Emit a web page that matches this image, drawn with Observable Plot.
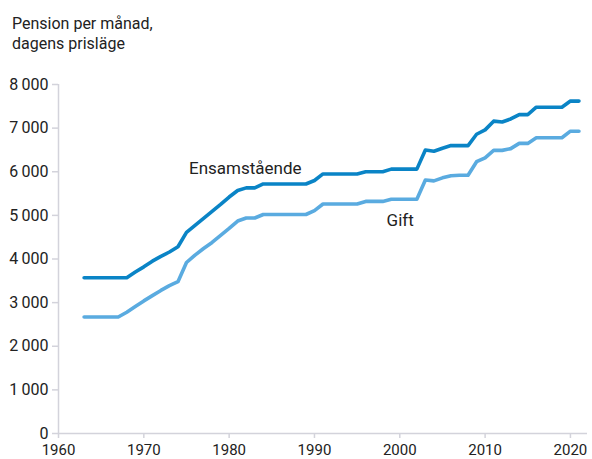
<!DOCTYPE html>
<html>
<head>
<meta charset="utf-8">
<script src="https://cdn.jsdelivr.net/npm/d3@7"></script>
<script src="https://cdn.jsdelivr.net/npm/@observablehq/plot@0.6"></script>
<style>
  html, body { margin: 0; padding: 0; background: #fff; }
  body { width: 592px; height: 459px; overflow: hidden; font-family: Roboto, "DejaVu Sans", sans-serif; }
  #title { padding: 14px 0 0 12px; height: 46px; font-size: 16px; line-height: 20px; color: #222; }
  svg { overflow: visible; display: block; }
</style>
</head>
<body>
<div id="title">Pension per månad,<br>dagens prisläge</div>
<div id="chart"></div>
<script>
const years = [1963,1964,1965,1966,1967,1968,1969,1970,1971,1972,1973,1974,1975,1976,1977,1978,1979,1980,
  1981,1982,1983,1984,1985,1986,1987,1988,1989,1990,1991,1992,1993,1994,1995,1996,1997,1998,1999,2000,
  2001,2002,2003,2004,2005,2006,2007,2008,2009,2010,2011,2012,2013,2014,2015,2016,2017,2018,2019,2020,2021];

const ensamstaende = [3570,3570,3570,3570,3570,3570,3700,3820,3950,4060,4160,4280,4610,4770,4930,5090,5250,5420,
  5570,5630,5630,5720,5720,5720,5720,5720,5720,5800,5950,5950,5950,5950,5950,6000,6000,6000,6060,6060,
  6060,6060,6500,6470,6540,6600,6600,6600,6860,6960,7160,7140,7210,7310,7310,7480,7480,7480,7480,7620,7620];

const gift = [2670,2670,2670,2670,2670,2780,2910,3040,3160,3280,3390,3480,3920,4090,4240,4380,4540,4700,
  4870,4940,4940,5020,5020,5020,5020,5020,5020,5110,5260,5260,5260,5260,5260,5320,5320,5320,5370,5370,
  5370,5370,5810,5790,5860,5910,5920,5920,6230,6320,6490,6490,6530,6650,6650,6780,6780,6780,6780,6930,6930];

const xTicks = [1960, 1970, 1980, 1990, 2000, 2010, 2020];
const yTicks = [0, 1000, 2000, 3000, 4000, 5000, 6000, 7000, 8000];

const seriesNames = ["Ensamstående", "Gift"];
const seriesColors = ["#0a84c6", "#5aabe0"];

const labels = [
  {text: "Ensamstående", year: 1975.3, value: 6075},
  {text: "Gift", year: 1998.45, value: 4875}
];

const rows = [];
years.forEach((yr, i) => {
  rows.push({year: yr, value: ensamstaende[i], series: seriesNames[0]});
  rows.push({year: yr, value: gift[i], series: seriesNames[1]});
});

const fmt = v => {
  const s = String(v);
  return s.length > 3 ? s.slice(0, s.length - 3) + "\u2009" + s.slice(-3) : s;
};

const axisColor = "#d3d3db";
const textColor = "#222";

const chart = Plot.plot({
  width: 592,
  height: 399,
  marginTop: 24,
  marginBottom: 26,
  marginLeft: 58,
  marginRight: 5,
  style: {fontFamily: "Roboto, sans-serif", fontSize: "16px", color: textColor, background: "#fff"},
  x: {domain: [1960, 2022]},
  y: {domain: [0, 8000]},
  color: {domain: seriesNames, range: seriesColors},
  marks: [
    Plot.ruleY([0], {stroke: axisColor, strokeWidth: 1.5}),
    Plot.ruleX([1960], {y1: 0, y2: 8000, stroke: axisColor, strokeWidth: 1.5}),
    Plot.axisX({ticks: xTicks, tickFormat: d => String(d), tickSize: 5, tickPadding: 6, stroke: axisColor, strokeWidth: 1.5, fill: textColor, fontSize: 15, label: null}),
    Plot.axisY({ticks: yTicks, tickFormat: fmt, tickSize: 6, tickPadding: 4, stroke: axisColor, strokeWidth: 1.5, fill: textColor, fontSize: 16, label: null}),
    Plot.line(rows, {x: "year", y: "value", z: "series", stroke: "series", strokeWidth: 3.6, strokeLinejoin: "round", strokeLinecap: "round"}),
    Plot.text(labels, {x: "year", y: "value", text: "text", textAnchor: "start", fill: textColor, fontSize: 17})
  ]
});
document.getElementById("chart").appendChild(chart);
</script>
</body>
</html>
